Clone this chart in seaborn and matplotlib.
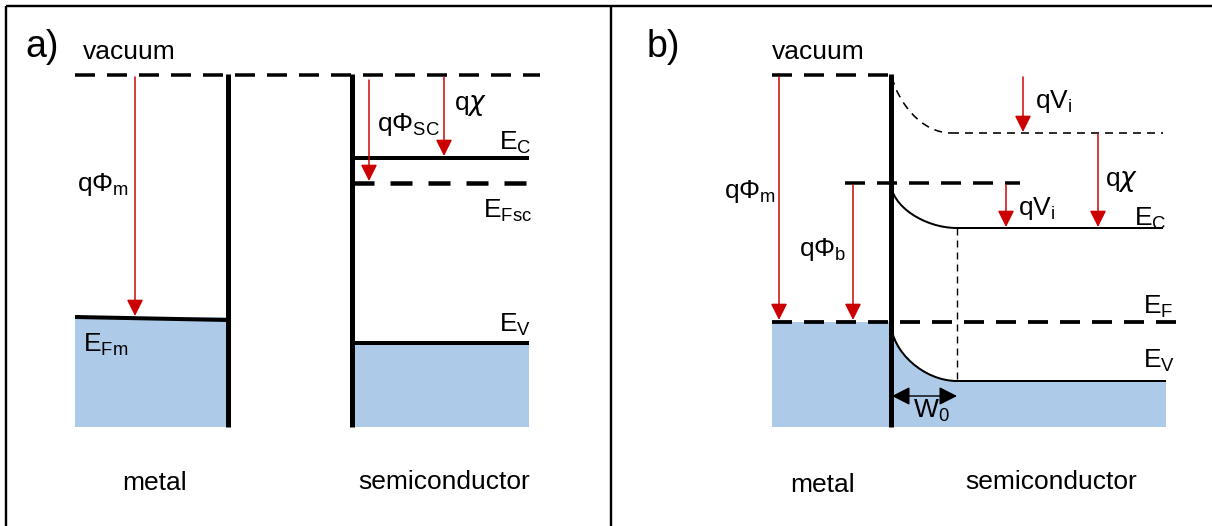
import matplotlib
matplotlib.use("Agg")
import matplotlib.pyplot as plt
from matplotlib.path import Path
from matplotlib.patches import PathPatch, Rectangle
import pandas as pd
import seaborn as sns

# ---------------- data: energy-band diagram levels (diagram units, energy downward) -------
# panel a) : metal and semiconductor apart
a_vacuum = 75
a_bottom = 427
a_metal_x = [75, 228]
a_metal_EF = [317, 320]          # Fermi level of the metal (slightly tilted)
a_sc_x = [352, 529]
a_sc_EC = 158
a_sc_EFsc = 183
a_sc_EV = 343
a_vac_end = 540
a_arrow_phim_x = 135
a_arrow_phisc_x = 369
a_arrow_chi_x = 444

# panel b) : metal–semiconductor contact
b_vacuum = 75
b_bottom = 427
b_metal_x = [772, 891]
b_EF = 322
b_EF_end = 1178
b_barrier = 183
b_barrier_x = [845, 1020]
b_vac_bulk = 133
b_EC_bulk = 228
b_EV_bulk = 381
b_W0_x = 957
b_sc_end = 1166
b_arrow_phim_x = 779
b_arrow_phib_x = 853
b_arrow_Vi_top_x = 1023
b_arrow_Vi_low_x = 1006
b_arrow_chi_x = 1098

RED = "#cc0000"
BLUE = "#adcbe8"
PX = 72 / 100.0   # points per pixel
K = 0.5           # cubic-Bezier factor for the band bending shape

sns.set_theme(style="white")
plt.rcParams['font.family'] = ['Liberation Sans', 'DejaVu Sans']

fig = plt.figure(figsize=(12.12, 5.26), dpi=100)
ax = fig.add_axes([0, 0, 1, 1])
ax.set_xlim(0, 1212)
ax.set_ylim(526, 0)
ax.axis("off")


def line(xs, ys, lw_px, dash=None, color="black", z=3):
    df = pd.DataFrame({"x": xs, "y": ys})
    kw = dict(color=color, linewidth=lw_px * PX, zorder=z, solid_capstyle="butt")
    if dash is not None:
        on, off = dash
        lw = lw_px * PX
        kw["linestyle"] = (0, (on * PX / lw, off * PX / lw))
        kw["dash_capstyle"] = "butt"
    sns.lineplot(data=df, x="x", y="y", ax=ax, estimator=None, sort=False, **kw)


def red_arrow(x, y0, y1):
    ax.annotate("", xy=(x, y1), xytext=(x, y0),
                arrowprops=dict(arrowstyle="-|>,head_length=0.5,head_width=0.25",
                                color=RED, lw=1.5 * PX, shrinkA=0, shrinkB=0,
                                mutation_scale=20), zorder=5)


def bend_vertices(p0, p1, k0=K, k1=K):
    (x0, y0), (x1, y1) = p0, p1
    return [(x0, y0), (x0, y0 + k0 * (y1 - y0)), (x1 - k1 * (x1 - x0), y1), (x1, y1)]


def curve(p0, p1, lw_px, dash=None, k0=K, k1=K, dx0=0.0):
    v = bend_vertices(p0, p1, k0, k1)
    v[1] = (v[1][0] + dx0, v[1][1])
    path = Path(v, [Path.MOVETO, Path.CURVE4, Path.CURVE4, Path.CURVE4])
    patch = PathPatch(path, facecolor="none", edgecolor="black", lw=lw_px * PX, zorder=3)
    if dash is not None:
        lw = lw_px * PX
        patch.set_linestyle((0, (dash[0] * PX / lw, dash[1] * PX / lw)))
    ax.add_patch(patch)


FS = 19


def txt(x, y, s, size=FS):
    ax.text(x, y, s, fontsize=size, ha="left", va="baseline", color="black", zorder=6)


# ---------------- frame ----------------
line([6, 1212], [6, 6], 2.4)
line([6, 6], [6, 526], 2.4)
line([611, 611], [6, 526], 2.4)

# ================= panel a =================
ax.add_patch(Rectangle((a_metal_x[0], a_metal_EF[0]), a_metal_x[1] - a_metal_x[0],
                       a_bottom - a_metal_EF[0], facecolor=BLUE, edgecolor="none", zorder=1))
ax.add_patch(Rectangle((a_sc_x[0], a_sc_EV), a_sc_x[1] - a_sc_x[0],
                       a_bottom - a_sc_EV, facecolor=BLUE, edgecolor="none", zorder=1))
line([a_metal_x[0], a_vac_end], [a_vacuum, a_vacuum], 3.5, dash=(20, 12))
line([a_metal_x[1], a_metal_x[1]], [a_vacuum - 1, a_bottom], 5)
line(a_metal_x, a_metal_EF, 4)
line([a_sc_x[0], a_sc_x[0]], [a_vacuum - 1, a_bottom], 5)
line(a_sc_x, [a_sc_EC, a_sc_EC], 4)
line(a_sc_x, [a_sc_EFsc, a_sc_EFsc], 4.5, dash=(22, 16))
line(a_sc_x, [a_sc_EV, a_sc_EV], 4)

red_arrow(a_arrow_phim_x, a_vacuum + 2, a_metal_EF[0] - 1)
red_arrow(a_arrow_phisc_x, a_vacuum + 5, a_sc_EFsc - 2)
red_arrow(a_arrow_chi_x, a_vacuum + 2, a_sc_EC - 2)

txt(25, 57, "a)", size=27)
txt(83, 59, "vacuum")
txt(77, 191, r"qΦ$_\mathregular{m}$")
txt(377, 131, r"qΦ$_\mathregular{SC}$")
txt(454, 110, r"q$\chi$")
txt(499, 150, r"E$_\mathregular{C}$")
txt(483, 218, r"E$_\mathregular{Fsc}$")
txt(499, 331, r"E$_\mathregular{V}$")
txt(83, 351, r"E$_\mathregular{Fm}$")
txt(122, 490, "metal")
txt(358, 489, "semiconductor")

# ================= panel b =================
ix = b_metal_x[1]
ax.add_patch(Rectangle((b_metal_x[0], b_EF), ix - b_metal_x[0], b_bottom - b_EF,
                       facecolor=BLUE, edgecolor="none", zorder=1))
v = bend_vertices((ix, b_EF), (b_W0_x, b_EV_bulk))
sc_fill = Path(v + [(b_sc_end, b_EV_bulk), (b_sc_end, b_bottom), (ix, b_bottom), (ix, b_EF)],
               [Path.MOVETO, Path.CURVE4, Path.CURVE4, Path.CURVE4, Path.LINETO, Path.LINETO,
                Path.LINETO, Path.CLOSEPOLY])
ax.add_patch(PathPatch(sc_fill, facecolor=BLUE, edgecolor="none", zorder=1))

line([b_metal_x[0], ix], [b_vacuum, b_vacuum], 3.5, dash=(20, 12))
line([ix, ix], [b_vacuum - 1, b_bottom], 5)
# vacuum level bending
curve((ix + 1, b_vacuum + 2), (b_W0_x - 6, b_vac_bulk), 1.6, dash=(8, 6), k0=0.45, k1=0.5, dx0=6)
line([b_W0_x - 6, b_sc_end - 3], [b_vac_bulk, b_vac_bulk], 1.6, dash=(8, 6))
# barrier level
line(b_barrier_x, [b_barrier, b_barrier], 3.5, dash=(20, 12))
# conduction band
curve((ix, b_barrier), (b_W0_x, b_EC_bulk), 2)
line([b_W0_x, b_sc_end - 3], [b_EC_bulk, b_EC_bulk], 2)
# Fermi level
line([b_metal_x[0], b_EF_end], [b_EF, b_EF], 3.8, dash=(20, 12))
# valence band
curve((ix, b_EF), (b_W0_x, b_EV_bulk), 2)
line([b_W0_x, b_sc_end], [b_EV_bulk, b_EV_bulk], 2)
# depletion edge
line([b_W0_x, b_W0_x], [b_EC_bulk, b_EV_bulk], 1.4, dash=(7, 5))
ax.annotate("", xy=(b_W0_x, 396), xytext=(ix + 1, 396),
            arrowprops=dict(arrowstyle="<|-|>,head_length=0.55,head_width=0.28",
                            color="black", lw=1.4 * PX, shrinkA=0, shrinkB=0,
                            mutation_scale=20), zorder=5)

red_arrow(b_arrow_phim_x, b_vacuum + 2, b_EF - 2)
red_arrow(b_arrow_phib_x, b_barrier + 2, b_EF - 2)
red_arrow(b_arrow_Vi_top_x, b_vacuum + 2, b_vac_bulk - 1)
red_arrow(b_arrow_Vi_low_x, b_barrier + 2, b_EC_bulk - 1)
red_arrow(b_arrow_chi_x, b_vac_bulk + 1, b_EC_bulk - 1)

txt(647, 57, "b)", size=27)
txt(772, 59, "vacuum")
txt(1035, 108, r"qV$_\mathregular{i}$")
txt(1105, 186, r"q$\chi$")
txt(1134, 225, r"E$_\mathregular{C}$")
txt(1018, 215, r"qV$_\mathregular{i}$")
txt(724, 198, r"qΦ$_\mathregular{m}$")
txt(799, 256, r"qΦ$_\mathregular{b}$")
txt(1143, 314, r"E$_\mathregular{F}$")
txt(1143, 368, r"E$_\mathregular{V}$")
txt(913, 418, r"W$_\mathregular{0}$")
txt(790, 492, "metal")
txt(965, 489, "semiconductor")

fig.savefig("out.png", dpi=100)
